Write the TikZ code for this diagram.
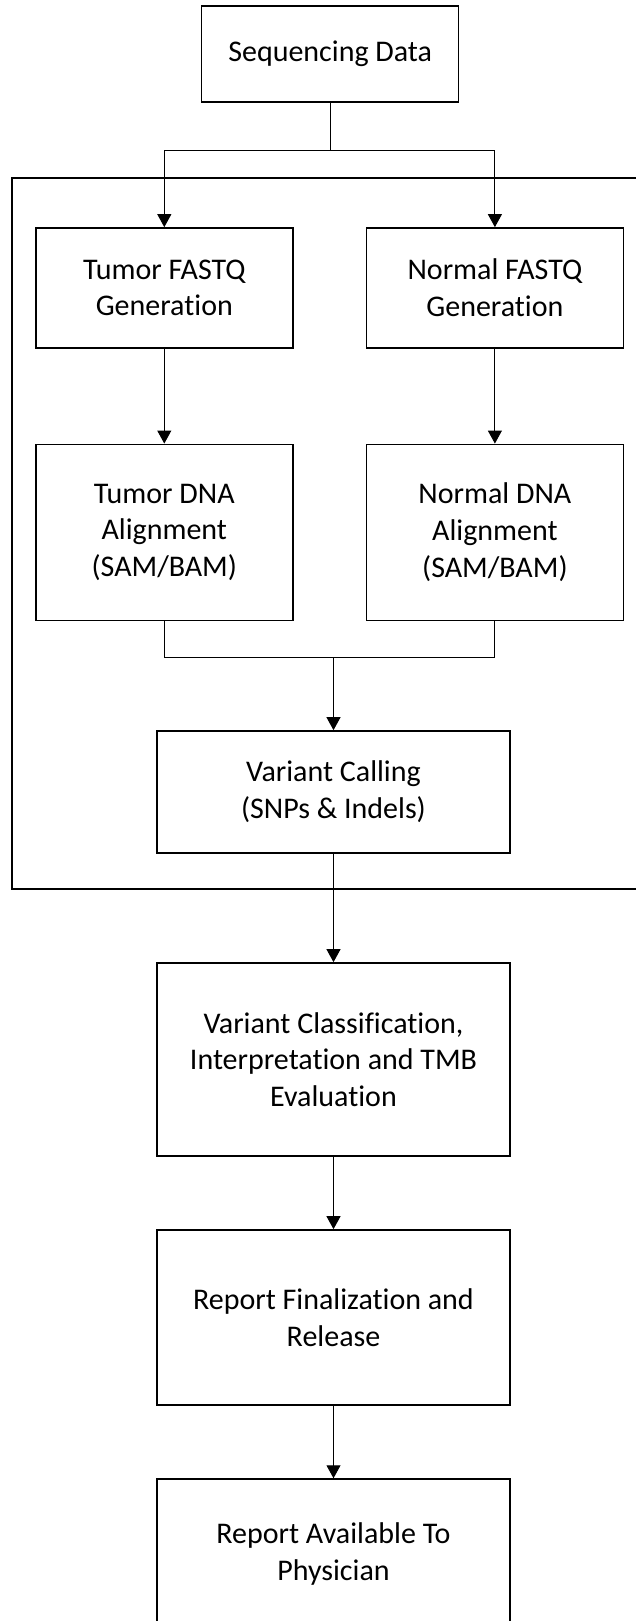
\documentclass[tikz,border=0pt]{standalone}
\usepackage{fontspec}
\setmainfont{Carlito}[Ligatures={NoCommon}]
\usetikzlibrary{arrows.meta}
\tikzset{
  stage/.style={draw=black,line width=1.5pt,align=center,inner sep=0pt,
    font=\fontsize{30}{36.7}\selectfont},
  link/.style={draw=black,line width=1pt},
  flow/.style={link,-{Triangle[length=13pt,width=14pt]}},
  frame/.style={draw=black,line width=2pt}
}
\begin{document}
\begin{tikzpicture}[x=1pt,y=-1pt]
\clip (0,0) rectangle (636,1621);
\fill[white] (0,0) rectangle (636,1621);
\draw[frame] (12.2,177.7) rectangle (660,889.3);
\node[stage,minimum width=257pt,minimum height=96pt] (seq) at (330.2,54.2) {Sequencing Data};
\node[stage,minimum width=257pt,minimum height=120pt] (tfq) at (164.3,287.9) {Tumor FASTQ\\Generation};
\node[stage,minimum width=257pt,minimum height=120pt] (nfq) at (494.9,287.9) {Normal FASTQ\\Generation};
\node[stage,minimum width=257pt,minimum height=176pt] (taln) at (164.3,532.3) {Tumor DNA\\Alignment\\(SAM/BAM)};
\node[stage,minimum width=257pt,minimum height=176pt] (naln) at (494.9,532.3) {Normal DNA\\Alignment\\(SAM/BAM)};
\node[stage,minimum width=353pt,minimum height=122pt] (call) at (333.5,791.9) {Variant Calling\\(SNPs \& Indels)};
\node[stage,minimum width=353pt,minimum height=193pt] (tmb) at (333.5,1059.4) {Variant Classification,\\Interpretation and TMB\\Evaluation};
\node[stage,minimum width=353pt,minimum height=175pt] (fin) at (333.5,1317.4) {Report Finalization and\\Release};
\node[stage,minimum width=353pt,minimum height=150pt] (avail) at (333.5,1554) {Report Available To\\Physician};
\coordinate (split) at (330.2,151);
\coordinate (merge) at (333.5,657);
\draw[link] (seq.south) -- (split);
\draw[flow] (split) -| (tfq.north);
\draw[flow] (split) -| (nfq.north);
\draw[flow] (tfq) -- (taln);
\draw[flow] (nfq) -- (naln);
\draw[link] (taln.south) |- (merge);
\draw[link] (naln.south) |- (merge);
\draw[flow] (merge) -- (call.north);
\draw[flow] (call) -- (tmb);
\draw[flow] (tmb) -- (fin);
\draw[flow] (fin) -- (avail);
\end{tikzpicture}
\end{document}
